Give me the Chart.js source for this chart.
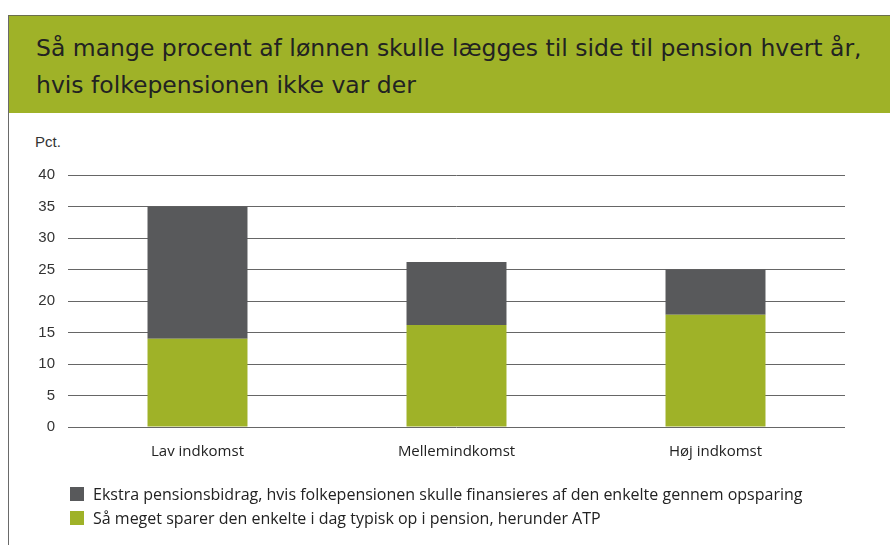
<!DOCTYPE html>
<html>
<head>
<meta charset="utf-8">
<script src="https://cdn.jsdelivr.net/npm/chart.js@4/dist/chart.umd.min.js"></script>
<style>
  body { margin: 0; background: #fff; width: 890px; height: 545px; overflow: hidden; position: relative; }
  #frame { position: absolute; left: 8px; top: 15px; width: 882px; height: 530px;
           border-left: 1px solid #6a6a6a; border-top: 1px solid #6b6e4c; }
  #header { position: absolute; left: 0; top: 0; width: 882px; height: 97px; background: #9fb228; overflow: hidden; }
  #title { position: absolute; left: 27px; top: 14px; margin: 0; font: 400 23.5px "DejaVu Sans", sans-serif;
           color: #222; line-height: 37px; white-space: nowrap; }
  #pct { position: absolute; left: 35px; top: 133px; font: 15px "Liberation Sans", Arial, sans-serif; color: #333; }
  #wrap { position: absolute; left: 8px; top: 113px; width: 882px; height: 432px; }
  #legend { position: absolute; left: 70px; top: 482px; font: 16px "Open Sans", sans-serif; color: #222; }
  .item { display: flex; align-items: center; height: 24px; }
  .box { width: 14px; height: 14px; margin-right: 9px; }
</style>
</head>
<body>
<div id="frame">
  <div id="header">
    <h1 id="title">Så mange procent af lønnen skulle lægges til side til pension hvert år,<br>hvis folkepensionen ikke var der</h1>
  </div>
</div>
<div id="pct">Pct.</div>
<div id="wrap"><canvas id="pensionchart" width="882" height="432"></canvas></div>
<div id="legend"></div>

<script>
// Categories and values
const categories = ['Lav indkomst', 'Mellemindkomst', 'Høj indkomst'];
const savedToday = [14, 16.2, 17.8];   // green part
const extraNeeded = [21, 10, 7.2];     // dark part on top
const yTicks = [0, 5, 10, 15, 20, 25, 30, 35, 40];

const greenLabel = 'Så meget sparer den enkelte i dag typisk op i pension, herunder ATP';
const greyLabel = 'Ekstra pensionsbidrag, hvis folkepensionen skulle finansieres af den enkelte gennem opsparing';

const chartData = {
    labels: categories,
    datasets: [
        { label: greenLabel, data: savedToday, backgroundColor: '#9fb228', borderWidth: 0 },
        { label: greyLabel, data: extraNeeded, backgroundColor: '#58595b', borderWidth: 0 }
    ]
};

const chartOptions = {
    responsive: false,
    animation: false,
    layout: { padding: { top: 62, right: 45, left: 0, bottom: 0 } },
    datasets: { bar: { categoryPercentage: 1, barPercentage: 0.386 } },
    scales: {
        x: {
            stacked: true,
            grid: { display: false },
            border: { display: false },
            ticks: { color: '#222', font: { family: 'Open Sans', size: 15 }, padding: 8 },
            afterFit: (scale) => { scale.height = 118; }
        },
        y: {
            stacked: true,
            min: yTicks[0],
            max: yTicks[yTicks.length - 1],
            afterBuildTicks: (scale) => { scale.ticks = yTicks.map(v => ({ value: v })); },
            grid: { color: '#666', lineWidth: 1, drawTicks: false },
            border: { display: false },
            ticks: { color: '#333', font: { family: 'Liberation Sans', size: 15 }, padding: 13 },
            afterFit: (scale) => { scale.width = 60; }
        }
    },
    plugins: {
        legend: { display: false },
        tooltip: { enabled: false }
    }
};

const chart = new Chart(document.getElementById('pensionchart'), {
    type: 'bar',
    data: chartData,
    options: chartOptions
});

// legend drawn as html, dark series first like the original
const legendEl = document.getElementById('legend');
chart.data.datasets.slice().reverse().forEach(ds => {
    const row = document.createElement('div');
    row.className = 'item';
    row.innerHTML = '<span class="box" style="background:' + ds.backgroundColor + '"></span><span>' + ds.label + '</span>';
    legendEl.appendChild(row);
});
</script>
</body>
</html>
